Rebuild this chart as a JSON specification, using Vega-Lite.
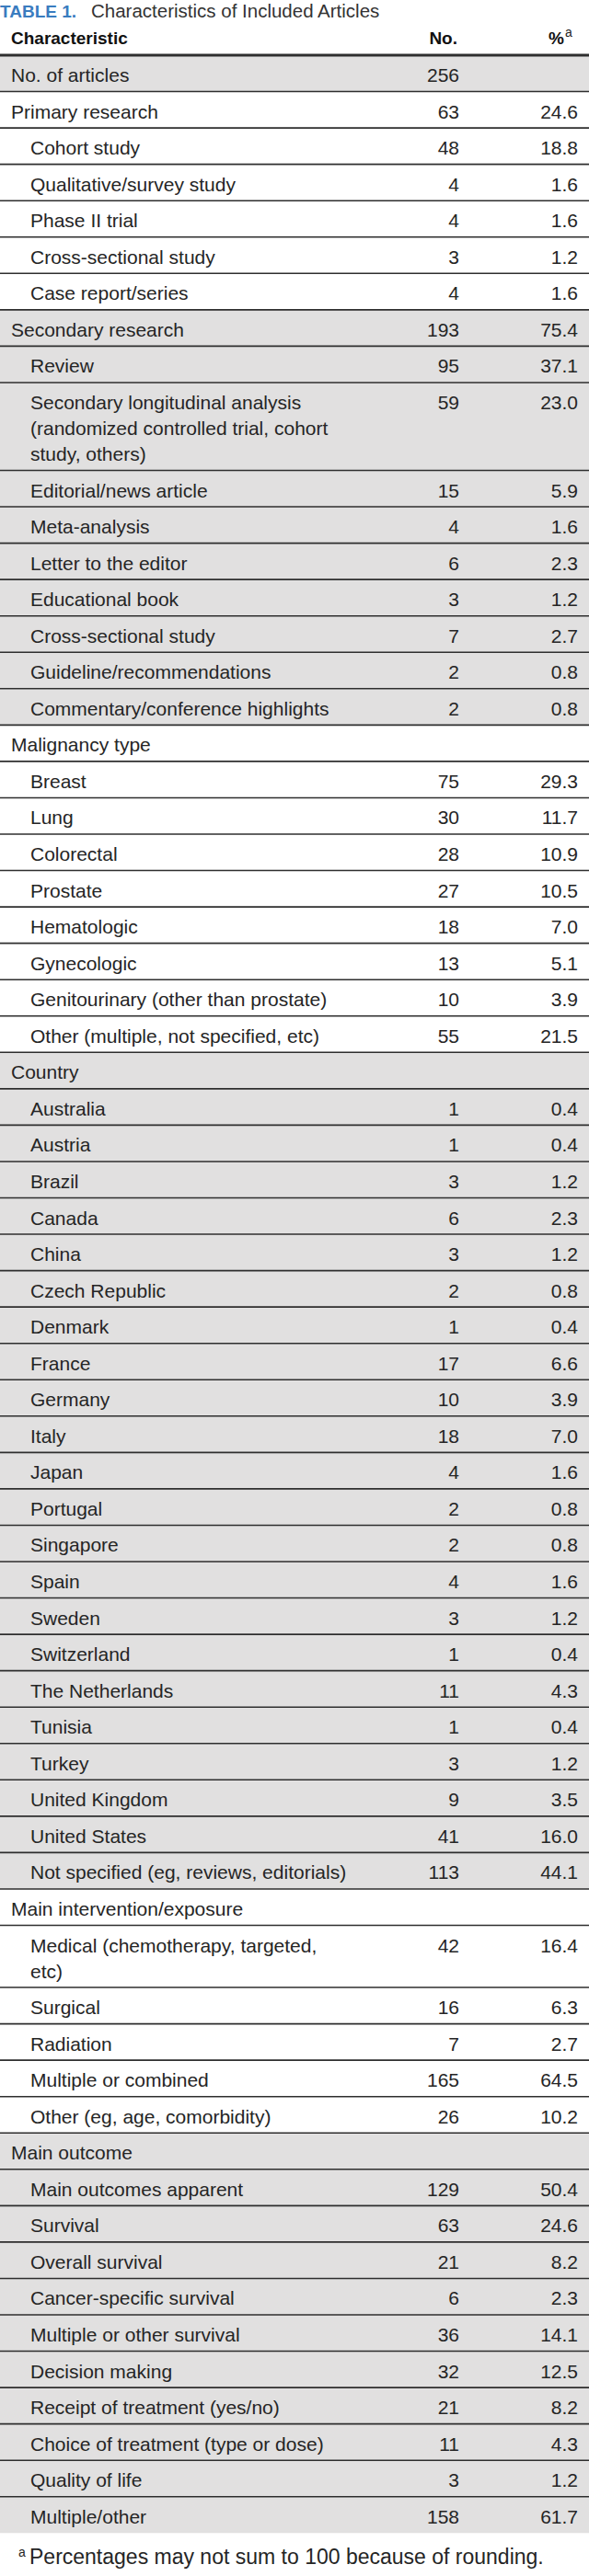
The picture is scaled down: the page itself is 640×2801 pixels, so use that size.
{
  "$schema": "https://vega.github.io/schema/vega-lite/v6.json",
  "width": 640,
  "height": 2801,
  "padding": 0,
  "autosize": {"type": "none"},
  "background": "white",
  "config": {"view": {"stroke": null}},
  "data": {"values": [
    {"kind": "title", "tag": "TABLE 1.", "label": "Characteristics of Included Articles"},
    {"kind": "header", "label": "Characteristic", "n": "No.", "pct": "%", "note": "a"},
    {"kind": "row", "section": "Articles", "level": 0, "label": "No. of articles", "n": 256},
    {"kind": "row", "section": "Primary research", "level": 0, "label": "Primary research", "n": 63, "pct": 24.6},
    {"kind": "row", "section": "Primary research", "level": 1, "label": "Cohort study", "n": 48, "pct": 18.8},
    {"kind": "row", "section": "Primary research", "level": 1, "label": "Qualitative/survey study", "n": 4, "pct": 1.6},
    {"kind": "row", "section": "Primary research", "level": 1, "label": "Phase II trial", "n": 4, "pct": 1.6},
    {"kind": "row", "section": "Primary research", "level": 1, "label": "Cross-sectional study", "n": 3, "pct": 1.2},
    {"kind": "row", "section": "Primary research", "level": 1, "label": "Case report/series", "n": 4, "pct": 1.6},
    {"kind": "row", "section": "Secondary research", "level": 0, "label": "Secondary research", "n": 193, "pct": 75.4},
    {"kind": "row", "section": "Secondary research", "level": 1, "label": "Review", "n": 95, "pct": 37.1},
    {"kind": "row", "section": "Secondary research", "level": 1, "label": ["Secondary longitudinal analysis", "\u2003(randomized controlled trial, cohort", "\u2003study, others)"], "n": 59, "pct": 23.0},
    {"kind": "row", "section": "Secondary research", "level": 1, "label": "Editorial/news article", "n": 15, "pct": 5.9},
    {"kind": "row", "section": "Secondary research", "level": 1, "label": "Meta-analysis", "n": 4, "pct": 1.6},
    {"kind": "row", "section": "Secondary research", "level": 1, "label": "Letter to the editor", "n": 6, "pct": 2.3},
    {"kind": "row", "section": "Secondary research", "level": 1, "label": "Educational book", "n": 3, "pct": 1.2},
    {"kind": "row", "section": "Secondary research", "level": 1, "label": "Cross-sectional study", "n": 7, "pct": 2.7},
    {"kind": "row", "section": "Secondary research", "level": 1, "label": "Guideline/recommendations", "n": 2, "pct": 0.8},
    {"kind": "row", "section": "Secondary research", "level": 1, "label": "Commentary/conference highlights", "n": 2, "pct": 0.8},
    {"kind": "row", "section": "Malignancy type", "level": 0, "label": "Malignancy type"},
    {"kind": "row", "section": "Malignancy type", "level": 1, "label": "Breast", "n": 75, "pct": 29.3},
    {"kind": "row", "section": "Malignancy type", "level": 1, "label": "Lung", "n": 30, "pct": 11.7},
    {"kind": "row", "section": "Malignancy type", "level": 1, "label": "Colorectal", "n": 28, "pct": 10.9},
    {"kind": "row", "section": "Malignancy type", "level": 1, "label": "Prostate", "n": 27, "pct": 10.5},
    {"kind": "row", "section": "Malignancy type", "level": 1, "label": "Hematologic", "n": 18, "pct": 7.0},
    {"kind": "row", "section": "Malignancy type", "level": 1, "label": "Gynecologic", "n": 13, "pct": 5.1},
    {"kind": "row", "section": "Malignancy type", "level": 1, "label": "Genitourinary (other than prostate)", "n": 10, "pct": 3.9},
    {"kind": "row", "section": "Malignancy type", "level": 1, "label": "Other (multiple, not specified, etc)", "n": 55, "pct": 21.5},
    {"kind": "row", "section": "Country", "level": 0, "label": "Country"},
    {"kind": "row", "section": "Country", "level": 1, "label": "Australia", "n": 1, "pct": 0.4},
    {"kind": "row", "section": "Country", "level": 1, "label": "Austria", "n": 1, "pct": 0.4},
    {"kind": "row", "section": "Country", "level": 1, "label": "Brazil", "n": 3, "pct": 1.2},
    {"kind": "row", "section": "Country", "level": 1, "label": "Canada", "n": 6, "pct": 2.3},
    {"kind": "row", "section": "Country", "level": 1, "label": "China", "n": 3, "pct": 1.2},
    {"kind": "row", "section": "Country", "level": 1, "label": "Czech Republic", "n": 2, "pct": 0.8},
    {"kind": "row", "section": "Country", "level": 1, "label": "Denmark", "n": 1, "pct": 0.4},
    {"kind": "row", "section": "Country", "level": 1, "label": "France", "n": 17, "pct": 6.6},
    {"kind": "row", "section": "Country", "level": 1, "label": "Germany", "n": 10, "pct": 3.9},
    {"kind": "row", "section": "Country", "level": 1, "label": "Italy", "n": 18, "pct": 7.0},
    {"kind": "row", "section": "Country", "level": 1, "label": "Japan", "n": 4, "pct": 1.6},
    {"kind": "row", "section": "Country", "level": 1, "label": "Portugal", "n": 2, "pct": 0.8},
    {"kind": "row", "section": "Country", "level": 1, "label": "Singapore", "n": 2, "pct": 0.8},
    {"kind": "row", "section": "Country", "level": 1, "label": "Spain", "n": 4, "pct": 1.6},
    {"kind": "row", "section": "Country", "level": 1, "label": "Sweden", "n": 3, "pct": 1.2},
    {"kind": "row", "section": "Country", "level": 1, "label": "Switzerland", "n": 1, "pct": 0.4},
    {"kind": "row", "section": "Country", "level": 1, "label": "The Netherlands", "n": 11, "pct": 4.3},
    {"kind": "row", "section": "Country", "level": 1, "label": "Tunisia", "n": 1, "pct": 0.4},
    {"kind": "row", "section": "Country", "level": 1, "label": "Turkey", "n": 3, "pct": 1.2},
    {"kind": "row", "section": "Country", "level": 1, "label": "United Kingdom", "n": 9, "pct": 3.5},
    {"kind": "row", "section": "Country", "level": 1, "label": "United States", "n": 41, "pct": 16.0},
    {"kind": "row", "section": "Country", "level": 1, "label": "Not specified (eg, reviews, editorials)", "n": 113, "pct": 44.1},
    {"kind": "row", "section": "Main intervention/exposure", "level": 0, "label": "Main intervention/exposure"},
    {"kind": "row", "section": "Main intervention/exposure", "level": 1, "label": ["Medical (chemotherapy, targeted,", "\u2003etc)"], "n": 42, "pct": 16.4},
    {"kind": "row", "section": "Main intervention/exposure", "level": 1, "label": "Surgical", "n": 16, "pct": 6.3},
    {"kind": "row", "section": "Main intervention/exposure", "level": 1, "label": "Radiation", "n": 7, "pct": 2.7},
    {"kind": "row", "section": "Main intervention/exposure", "level": 1, "label": "Multiple or combined", "n": 165, "pct": 64.5},
    {"kind": "row", "section": "Main intervention/exposure", "level": 1, "label": "Other (eg, age, comorbidity)", "n": 26, "pct": 10.2},
    {"kind": "row", "section": "Main outcome", "level": 0, "label": "Main outcome"},
    {"kind": "row", "section": "Main outcome", "level": 1, "label": "Main outcomes apparent", "n": 129, "pct": 50.4},
    {"kind": "row", "section": "Main outcome", "level": 1, "label": "Survival", "n": 63, "pct": 24.6},
    {"kind": "row", "section": "Main outcome", "level": 1, "label": "Overall survival", "n": 21, "pct": 8.2},
    {"kind": "row", "section": "Main outcome", "level": 1, "label": "Cancer-specific survival", "n": 6, "pct": 2.3},
    {"kind": "row", "section": "Main outcome", "level": 1, "label": "Multiple or other survival", "n": 36, "pct": 14.1},
    {"kind": "row", "section": "Main outcome", "level": 1, "label": "Decision making", "n": 32, "pct": 12.5},
    {"kind": "row", "section": "Main outcome", "level": 1, "label": "Receipt of treatment (yes/no)", "n": 21, "pct": 8.2},
    {"kind": "row", "section": "Main outcome", "level": 1, "label": "Choice of treatment (type or dose)", "n": 11, "pct": 4.3},
    {"kind": "row", "section": "Main outcome", "level": 1, "label": "Quality of life", "n": 3, "pct": 1.2},
    {"kind": "row", "section": "Main outcome", "level": 1, "label": "Multiple/other", "n": 158, "pct": 61.7},
    {"kind": "footnote", "note": "a", "label": "Percentages may not sum to 100 because of rounding."}
  ]},
  "transform": [
    {"window": [{"op": "row_number", "as": "idx"}]},
    {"calculate": "isArray(datum.label) ? length(datum.label) : 1", "as": "lines"},
    {"calculate": "datum.kind === 'title' ? 30 : datum.kind === 'header' ? 30 : datum.kind === 'footnote' ? 47 : 39.55 + 28 * (datum.lines - 1)", "as": "h"},
    {"window": [{"op": "sum", "field": "h", "as": "yEnd"}], "sort": [{"field": "idx", "order": "ascending"}], "frame": [null, 0]},
    {"calculate": "datum.yEnd - datum.h", "as": "y0"},
    {"calculate": "datum.y0 + (datum.kind === 'title' ? 19 : datum.kind === 'header' ? 18 : datum.kind === 'footnote' ? 34 : 29)", "as": "yb"}
  ],
  "layer": [
    {
      "transform": [{"filter": "datum.kind === 'row'"}],
      "mark": {"type": "rect"},
      "encoding": {
        "y": {"field": "y0", "type": "quantitative", "scale": {"domain": [0, 2801], "range": [0, 2801], "nice": false, "zero": false}, "axis": null},
        "y2": {"field": "yEnd"},
        "fill": {"field": "section", "type": "nominal", "legend": null,
          "scale": {"domain": ["Articles", "Primary research", "Secondary research", "Malignancy type", "Country", "Main intervention/exposure", "Main outcome"],
                    "range": ["#e1e0e0", "#ffffff", "#e1e0e0", "#ffffff", "#e1e0e0", "#ffffff", "#e1e0e0"]}}
      }
    },
    {
      "transform": [{"filter": "datum.kind === 'row'"}],
      "mark": {"type": "rule", "color": "#2e2e2e"},
      "encoding": {
        "y": {"field": "y0", "type": "quantitative", "scale": {"domain": [0, 2801], "range": [0, 2801], "nice": false, "zero": false}, "axis": null},
        "strokeWidth": {"condition": {"test": "datum.idx === 3", "value": 3}, "value": 1.6}
      }
    },
    {
      "transform": [{"filter": "datum.kind === 'row'"}, {"calculate": "datum.level === 0 ? 12 : 33", "as": "xp"}],
      "mark": {"type": "text", "align": "left", "baseline": "alphabetic", "font": "Liberation Sans", "fontSize": 21, "lineHeight": 28, "color": "#252525"},
      "encoding": {
        "x": {"field": "xp", "type": "quantitative", "scale": {"domain": [0, 640], "range": [0, 640], "nice": false, "zero": false}, "axis": null},
        "y": {"field": "yb", "type": "quantitative", "scale": {"domain": [0, 2801], "range": [0, 2801], "nice": false, "zero": false}, "axis": null},
        "text": {"field": "label"}
      }
    },
    {
      "transform": [
        {"filter": "datum.kind === 'row'"},
        {"fold": ["n", "pct"], "as": ["key", "val"]},
        {"filter": "datum.val != null"},
        {"calculate": "datum.key === 'n' ? 499 : 628", "as": "xp"},
        {"calculate": "datum.key === 'n' ? format(datum.val, 'd') : format(datum.val, '.1f')", "as": "txt"}
      ],
      "mark": {"type": "text", "align": "right", "baseline": "alphabetic", "font": "Liberation Sans", "fontSize": 21, "color": "#252525"},
      "encoding": {
        "x": {"field": "xp", "type": "quantitative", "scale": {"domain": [0, 640], "range": [0, 640], "nice": false, "zero": false}, "axis": null},
        "y": {"field": "yb", "type": "quantitative", "scale": {"domain": [0, 2801], "range": [0, 2801], "nice": false, "zero": false}, "axis": null},
        "text": {"field": "txt"}
      }
    },
    {
      "transform": [{"filter": "datum.kind === 'header'"}, {"calculate": "12", "as": "xp"}],
      "mark": {"type": "text", "align": "left", "baseline": "alphabetic", "font": "Liberation Sans", "fontWeight": "bold", "fontSize": 19, "color": "#111111"},
      "encoding": {
        "x": {"field": "xp", "type": "quantitative", "scale": {"domain": [0, 640], "range": [0, 640], "nice": false, "zero": false}, "axis": null},
        "y": {"field": "yb", "type": "quantitative", "scale": {"domain": [0, 2801], "range": [0, 2801], "nice": false, "zero": false}, "axis": null},
        "text": {"field": "label"}
      }
    },
    {
      "transform": [
        {"filter": "datum.kind === 'header'"},
        {"fold": ["n", "pct"], "as": ["key", "val"]},
        {"calculate": "datum.key === 'n' ? 497 : 613", "as": "xp"}
      ],
      "mark": {"type": "text", "align": "right", "baseline": "alphabetic", "font": "Liberation Sans", "fontWeight": "bold", "fontSize": 19, "color": "#111111"},
      "encoding": {
        "x": {"field": "xp", "type": "quantitative", "scale": {"domain": [0, 640], "range": [0, 640], "nice": false, "zero": false}, "axis": null},
        "y": {"field": "yb", "type": "quantitative", "scale": {"domain": [0, 2801], "range": [0, 2801], "nice": false, "zero": false}, "axis": null},
        "text": {"field": "val"}
      }
    },
    {
      "transform": [{"filter": "datum.kind === 'header' || datum.kind === 'footnote'"}, {"calculate": "datum.kind === 'header' ? 614 : 20", "as": "xp"}],
      "mark": {"type": "text", "align": "left", "baseline": "alphabetic", "font": "Liberation Sans", "fontSize": 14, "dy": -8, "color": "#252525"},
      "encoding": {
        "x": {"field": "xp", "type": "quantitative", "scale": {"domain": [0, 640], "range": [0, 640], "nice": false, "zero": false}, "axis": null},
        "y": {"field": "yb", "type": "quantitative", "scale": {"domain": [0, 2801], "range": [0, 2801], "nice": false, "zero": false}, "axis": null},
        "text": {"field": "note"}
      }
    },
    {
      "transform": [{"filter": "datum.kind === 'title'"}, {"calculate": "0", "as": "xp"}],
      "mark": {"type": "text", "align": "left", "baseline": "alphabetic", "font": "Liberation Sans", "fontWeight": "bold", "fontSize": 19, "color": "#3a7cbf"},
      "encoding": {
        "x": {"field": "xp", "type": "quantitative", "scale": {"domain": [0, 640], "range": [0, 640], "nice": false, "zero": false}, "axis": null},
        "y": {"field": "yb", "type": "quantitative", "scale": {"domain": [0, 2801], "range": [0, 2801], "nice": false, "zero": false}, "axis": null},
        "text": {"field": "tag"}
      }
    },
    {
      "transform": [{"filter": "datum.kind === 'title'"}, {"calculate": "99", "as": "xp"}],
      "mark": {"type": "text", "align": "left", "baseline": "alphabetic", "font": "Liberation Sans", "fontSize": 20.5, "color": "#333333"},
      "encoding": {
        "x": {"field": "xp", "type": "quantitative", "scale": {"domain": [0, 640], "range": [0, 640], "nice": false, "zero": false}, "axis": null},
        "y": {"field": "yb", "type": "quantitative", "scale": {"domain": [0, 2801], "range": [0, 2801], "nice": false, "zero": false}, "axis": null},
        "text": {"field": "label"}
      }
    },
    {
      "transform": [{"filter": "datum.kind === 'footnote'"}, {"calculate": "32", "as": "xp"}],
      "mark": {"type": "text", "align": "left", "baseline": "alphabetic", "font": "Liberation Sans", "fontSize": 23, "color": "#252525"},
      "encoding": {
        "x": {"field": "xp", "type": "quantitative", "scale": {"domain": [0, 640], "range": [0, 640], "nice": false, "zero": false}, "axis": null},
        "y": {"field": "yb", "type": "quantitative", "scale": {"domain": [0, 2801], "range": [0, 2801], "nice": false, "zero": false}, "axis": null},
        "text": {"field": "label"}
      }
    }
  ]
}
